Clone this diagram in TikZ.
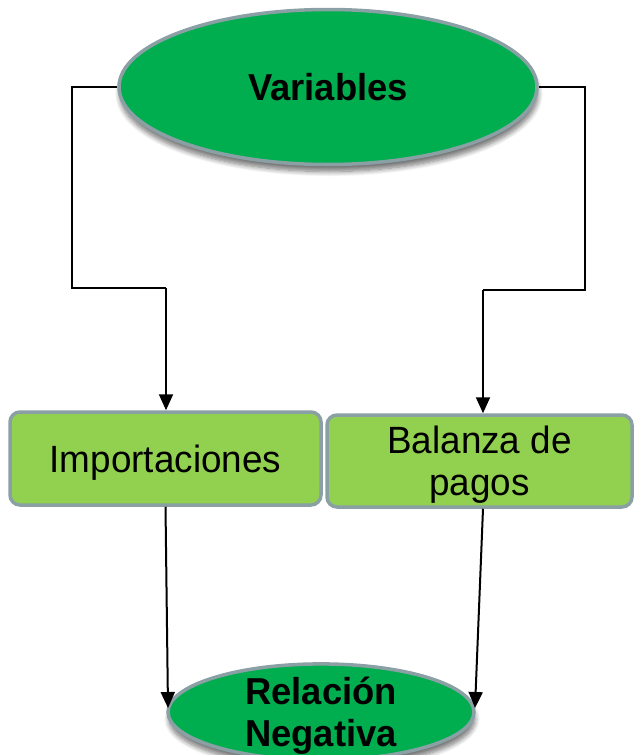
\documentclass[tikz,border=0pt]{standalone}
\usepackage{fontspec}
\setmainfont[FakeStretch=0.97]{Liberation Sans}
\usetikzlibrary{shadows.blur,arrows.meta,shapes.geometric}
\definecolor{dgreen}{HTML}{00AE50}
\definecolor{lgreen}{HTML}{92D050}
\definecolor{edge}{HTML}{8AA0A4}
\begin{document}
\begin{tikzpicture}[x=1pt,y=-1pt,
  oval/.style={ellipse,draw=edge,line width=3.5pt,fill=dgreen,inner sep=0pt,
    blur shadow={shadow xshift=1pt,shadow yshift=-7pt,shadow opacity=55,shadow blur steps=8,shadow blur radius=5pt},
    font=\fontsize{37.5}{42}\selectfont\bfseries,align=center},
  box/.style={rectangle,rounded corners=10pt,draw=edge,line width=3.5pt,fill=lgreen,inner sep=0pt,
    font=\fontsize{38}{42}\selectfont,align=center},
  arr/.style={line width=2pt,-{Triangle[length=16pt,width=14pt]}},
  ln/.style={line width=2pt}]
\useasboundingbox (0,0) rectangle (634,755);
\node[oval,minimum width=418pt,minimum height=155pt,text height=27.5pt,text depth=0pt] (V) at (328,87) {Variables};
\node[box,minimum width=311pt,minimum height=93pt,text height=27.5pt,text depth=0pt] (imp) at (165.5,458.5) {Importaciones};
\node[box,minimum width=305pt,minimum height=92pt,text height=69.5pt,text depth=0pt] (bal) at (479.5,461) {Balanza de\\pagos};
\node[oval,minimum width=306pt,minimum height=94pt,text height=68pt,text depth=0pt] (R) at (321,712) {Relación\\Negativa};
\coordinate (c1) at (72,288);
\coordinate (c2) at (166,288);
\coordinate (c3) at (585,290);
\coordinate (c4) at (483,290);
\coordinate (t1) at (168,708);
\coordinate (t2) at (475,708);
\draw[ln] (V.west) -| (c1) -- (c2);
\draw[arr] (c2) -- (c2 |- imp.north);
\draw[ln] (V.east) -| (c3) -- (c4);
\draw[arr] (c4) -- (c4 |- bal.north);
\draw[arr] (imp.south) -- (t1);
\draw[arr] (c4 |- bal.south) -- (t2);
\end{tikzpicture}
\end{document}
